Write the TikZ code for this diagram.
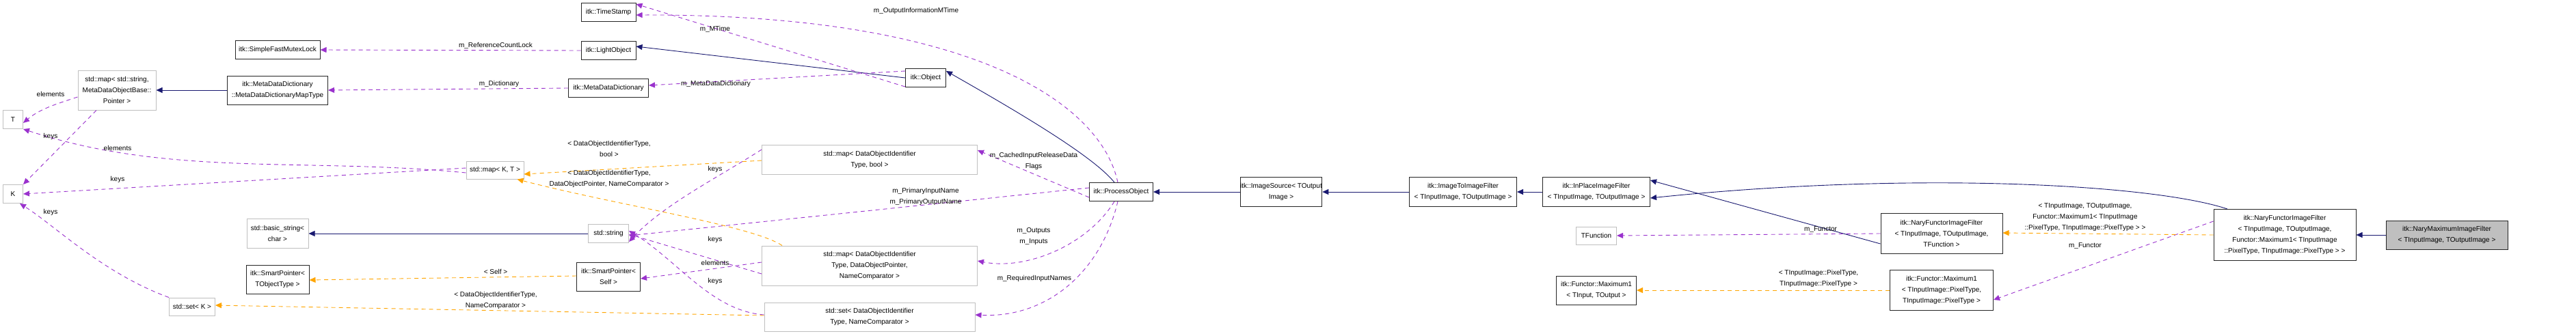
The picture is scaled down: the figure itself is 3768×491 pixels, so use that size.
\documentclass[tikz,border=0pt]{standalone}
\usepackage{fontspec}
\setmainfont{Liberation Sans}
\usetikzlibrary{arrows.meta}
\begin{document}
\begin{tikzpicture}[x=1pt,y=-1pt,
  every node/.style={font=\fontsize{10}{16}\selectfont,align=center,inner sep=0pt},
  box/.style={draw=black!85,line width=1pt,fill=white},
  gbox/.style={draw=black!25,line width=1pt,fill=white},
  inh/.style={draw={rgb,255:red,25;green,25;blue,112},line width=0.9pt,-{Triangle[length=9pt,width=8pt]}},
  use/.style={draw={rgb,255:red,154;green,50;blue,205},line width=0.9pt,dash pattern=on 6pt off 5pt,-{Triangle[length=9pt,width=8pt]}},
  tpl/.style={draw={rgb,255:red,255;green,165;blue,0},line width=0.9pt,dash pattern=on 6pt off 5pt,-{Triangle[length=9pt,width=8pt]}}]
\useasboundingbox (0,0) rectangle (3768,491);
% nodes
\node[box,minimum width=124,minimum height=27] (mutex) at (406,73) {itk::SimpleFastMutexLock};
\node[gbox,minimum width=114,minimum height=58] (mapS) at (171,132) {std::map\textless{} std::string,\\MetaDataObjectBase::\\Pointer \textgreater{}};
\node[box,minimum width=147,minimum height=42] (mtype) at (406,132) {itk::MetaDataDictionary\\::MetaDataDictionaryMapType};
\node[gbox,minimum width=29,minimum height=27] (T) at (19,175) {T};
\node[gbox,minimum width=29,minimum height=27] (K) at (19,284) {K};
\node[gbox,minimum width=90,minimum height=43] (bstr) at (406,342) {std::basic\_string\textless{}\\char \textgreater{}};
\node[box,minimum width=92,minimum height=42] (spT) at (406,409) {itk::SmartPointer\textless{}\\TObjectType \textgreater{}};
\node[gbox,minimum width=67,minimum height=26] (setK) at (281,449) {std::set\textless{} K \textgreater{}};
\node[box,minimum width=80,minimum height=27] (ts) at (890,18) {itk::TimeStamp};
\node[box,minimum width=80,minimum height=27] (lo) at (890,74) {itk::LightObject};
\node[box,minimum width=117,minimum height=27] (mdd) at (890,129) {itk::MetaDataDictionary};
\node[gbox,minimum width=84,minimum height=26] (mapKT) at (724,249) {std::map\textless{} K, T \textgreater{}};
\node[gbox,minimum width=59,minimum height=27] (str) at (890,342) {std::string};
\node[box,minimum width=93,minimum height=42] (spS) at (890,405) {itk::SmartPointer\textless{}\\Self \textgreater{}};
\node[gbox,minimum width=315,minimum height=43] (mapB) at (1272,234) {std::map\textless{} DataObjectIdentifier\\Type, bool \textgreater{}};
\node[gbox,minimum width=315,minimum height=58] (mapP) at (1272,389) {std::map\textless{} DataObjectIdentifier\\Type, DataObjectPointer,\\NameComparator \textgreater{}};
\node[gbox,minimum width=308,minimum height=42] (setD) at (1272,464) {std::set\textless{} DataObjectIdentifier\\Type, NameComparator \textgreater{}};
\node[box,minimum width=59,minimum height=27] (obj) at (1354,114) {itk::Object};
\node[box,minimum width=93,minimum height=27] (po) at (1640,281) {itk::ProcessObject};
\node[box,minimum width=98,minimum height=43] (isrc) at (1874,281) {itk::ImageSource\textless{} TOutput\\Image \textgreater{}};
\node[box,minimum width=157,minimum height=43] (i2i) at (2140,281) {itk::ImageToImageFilter\\\textless{} TInputImage, TOutputImage \textgreater{}};
\node[box,minimum width=157,minimum height=43] (inp) at (2335,281) {itk::InPlaceImageFilter\\\textless{} TInputImage, TOutputImage \textgreater{}};
\node[gbox,minimum width=59,minimum height=26] (tf) at (2335,345) {TFunction};
\node[box,minimum width=117,minimum height=42] (max1) at (2335,425) {itk::Functor::Maximum1\\\textless{} TInput, TOutput \textgreater{}};
\node[box,minimum width=178,minimum height=59] (nfT) at (2840,342) {itk::NaryFunctorImageFilter\\\textless{} TInputImage, TOutputImage,\\TFunction \textgreater{}};
\node[box,minimum width=151,minimum height=59] (max1P) at (2840,425) {itk::Functor::Maximum1\\\textless{} TInputImage::PixelType,\\TInputImage::PixelType \textgreater{}};
\node[box,minimum width=208,minimum height=75] (nfM) at (3342,344) {itk::NaryFunctorImageFilter\\\textless{} TInputImage, TOutputImage,\\Functor::Maximum1\textless{} TInputImage\\::PixelType, TInputImage::PixelType \textgreater{} \textgreater{}};
\node[box,fill=black!25,minimum width=178,minimum height=42] (nmax) at (3579,344) {itk::NaryMaximumImageFilter\\\textless{} TInputImage, TOutputImage \textgreater{}};
% inheritance
\draw[inh] (mtype) -- (mapS);
\draw[inh] (obj.west) -- ([yshift=6]lo.east);
\draw[inh] ([xshift=-10]po.north) .. controls (1600,230) and (1500,170) .. ([yshift=10]obj.east);
\draw[inh] (str) -- (bstr);
\draw[inh] (isrc) -- (po);
\draw[inh] (i2i) -- (isrc);
\draw[inh] (inp) -- (i2i);
\draw[inh] ([yshift=-15]nfT.west) -- ([yshift=17]inp.east);
\draw[inh] ([xshift=-84]nfM.north) .. controls (3150,270) and (2800,250) .. ([yshift=-9]inp.east);
\draw[inh] (nmax) -- (nfM);
% usage
\draw[use] (lo.west) -- (mutex.east);
\draw[use] ([yshift=-13]obj.west) -- ([yshift=12]ts.east);
\draw[use] ([yshift=10]obj.west) -- ([yshift=4]mdd.east);
\draw[use] (mdd.west) -- (mtype.east);
\draw[use] ([xshift=-5]po.north) .. controls (1610,150) and (1420,20) .. ([yshift=-4]ts.east);
\draw[use] ([yshift=-10]mapS.west) .. controls (90,150) and (60,158) .. ([yshift=-5]T.east);
\draw[use] ([xshift=-30]mapS.south) -- (K.north east);
\draw[use] ([yshift=-4]mapKT.west) .. controls (450,230) and (250,260) .. (T.south east);
\draw[use] ([yshift=3]mapKT.west) -- (K.east);
\draw[use] (setK.north west) .. controls (150,400) and (80,330) .. ([xshift=10]K.south);
\draw[use] ([yshift=-8]po.west) -- ([yshift=14]mapB.east);
\draw[use] ([yshift=6]po.west) -- ([yshift=-3]str.east);
\draw[use] ([xshift=-10]po.south) .. controls (1590,360) and (1500,396) .. ([yshift=7]mapP.east);
\draw[use] ([xshift=-5]po.south) .. controls (1610,400) and (1530,466) .. ([yshift=3]setD.east);
\draw[use] ([yshift=15]mapB.west) .. controls (1050,260) and (970,300) .. ([yshift=-12]str.east);
\draw[use] ([yshift=-12]mapP.west) -- ([yshift=-1]str.east);
\draw[use] ([yshift=5]mapP.west) -- ([yshift=-3]spS.east);
\draw[use] ([yshift=3]setD.west) .. controls (1040,455) and (990,380) .. ([yshift=4]str.east);
\draw[use] (nfT.west) -- (tf.east);
\draw[use] ([yshift=20]nfM.west) -- ([yshift=-14]max1P.east);
% template
\draw[tpl] ([yshift=-1]mapB.west) -- ([yshift=-6]mapKT.east);
\draw[tpl] ([xshift=-128]mapP.north) .. controls (1100,330) and (900,300) .. ([xshift=-10]mapKT.south east);
\draw[tpl] ([yshift=1]spS.west) -- ([yshift=-1]spT.east);
\draw[tpl] ([yshift=2]setD.west) -- ([yshift=2]setK.east);
\draw[tpl] (nfM.west) -- ([yshift=1]nfT.east);
\draw[tpl] (max1P.west) -- (max1.east);
% labels
\node (l1) at (74,138) {elements};
\node (l2) at (74,200) {keys};
\node (l3) at (172,217) {elements};
\node (l4) at (172,263) {keys};
\node (l5) at (74,311) {keys};
\node (l6) at (1340,16) {m\_OutputInformationMTime};
\node (l7) at (1046,43) {m\_MTime};
\node (l8) at (725,67) {m\_ReferenceCountLock};
\node (l9) at (730,123) {m\_Dictionary};
\node (l10) at (1047,123) {m\_MetaDataDictionary};
\node (l11) at (891,218) {\textless{} DataObjectIdentifierType,\\bool \textgreater{}};
\node (l12) at (891,262) {\textless{} DataObjectIdentifierType,\\DataObjectPointer, NameComparator \textgreater{}};
\node (l13) at (1046,248) {keys};
\node (l14) at (1046,351) {keys};
\node (l15) at (1046,385) {elements};
\node (l16) at (1046,412) {keys};
\node (l17) at (725,398) {\textless{} Self \textgreater{}};
\node (l18) at (725,440) {\textless{} DataObjectIdentifierType,\\NameComparator \textgreater{}};
\node (l19) at (1512,236) {m\_CachedInputReleaseData\\Flags};
\node (l20) at (1354,288) {m\_PrimaryInputName\\m\_PrimaryOutputName};
\node (l21) at (1512,346) {m\_Outputs\\m\_Inputs};
\node (l22) at (1513,408) {m\_RequiredInputNames};
\node (l23) at (2663,336) {m\_Functor};
\node (l24) at (3050,318) {\textless{} TInputImage, TOutputImage,\\Functor::Maximum1\textless{} TInputImage\\::PixelType, TInputImage::PixelType \textgreater{} \textgreater{}};
\node (l25) at (3050,360) {m\_Functor};
\node (l26) at (2660,408) {\textless{} TInputImage::PixelType,\\TInputImage::PixelType \textgreater{}};
\end{tikzpicture}
\end{document}
